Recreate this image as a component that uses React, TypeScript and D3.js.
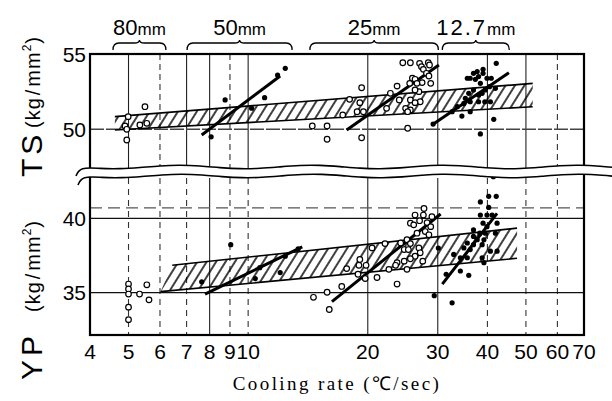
import React from "react";
import * as d3 from "d3";

// ---------- data ----------
const xTicks = [4, 5, 6, 7, 8, 9, 10, 20, 30, 40, 50, 60, 70];
const xTickLabels = ["4", "5", "6", "7", "8", "9", "10", "20", "30", "40", "50", "60", "70"];
const tsTicks = [50, 55];
const ypTicks = [35, 40];
const tsGridSolid = [5, 7, 8, 10, 20, 30, 40, 50];
const tsGridDashed = [6, 9, 60];
const ypGridSolid = [8, 20, 30];
const ypGridDashed = [5, 6, 7, 9, 10, 40, 50, 60];

const plateSizes = ["80", "50", "25", "12.7"];
const plateRanges: [number, number][] = [
  [4.57, 6.21],
  [7.02, 12.9],
  [14.3, 30.1],
  [30.8, 45.4],
];

// TS points (cooling rate, kg/mm2)
const ts80: [number, number][] = [
  [4.99, 50.84], [4.9, 50.22], [5.34, 50.29], [5.56, 50.4], [4.95, 50.0], [4.95, 49.29], [5.5, 51.5],
];
const ts50: [number, number][] = [
  [12.4, 54.05], [11.86, 53.6], [8.75, 51.95], [11.0, 52.1], [10.2, 51.4], [8.07, 49.5],
];
const ts25: [number, number][] = [
  [24.5, 54.42], [25.6, 54.42], [27.0, 54.38], [28.4, 54.42], [27.3, 54.16], [28.6, 54.27],
  [27.6, 53.98], [28.1, 53.72], [25.9, 53.39], [26.3, 53.32], [27.4, 53.1], [26.6, 53.05],
  [28.8, 53.05], [28.5, 53.54], [25.5, 53.05], [23.7, 52.87], [22.8, 52.39], [26.9, 52.5],
  [26.3, 52.61], [24.0, 51.95], [25.6, 51.95], [24.9, 51.39], [25.6, 51.28], [25.2, 51.17],
  [27.1, 51.83], [26.3, 51.77], [22.3, 51.39], [19.3, 52.76], [18.0, 51.99], [19.1, 51.77],
  [17.3, 50.95], [18.8, 51.17], [19.5, 51.17], [14.5, 50.22], [15.8, 50.22], [15.8, 49.34],
  [19.3, 49.44], [25.2, 50.07],
];
const ts127: [number, number][] = [
  [42.1, 54.38], [39.0, 53.98], [37.7, 53.83], [36.9, 53.72], [39.0, 53.72], [38.0, 53.5],
  [39.9, 53.39], [35.6, 53.39], [36.2, 53.39], [37.3, 53.32], [40.9, 53.39], [38.4, 53.05],
  [40.5, 52.83], [39.5, 52.61], [41.9, 52.72], [36.9, 52.61], [35.9, 52.39], [35.2, 52.06],
  [36.2, 51.83], [38.0, 51.83], [39.4, 51.83], [40.7, 51.83], [34.9, 51.72], [33.6, 51.5],
  [32.6, 51.17], [34.5, 50.88], [36.2, 51.17], [41.5, 50.66], [38.4, 49.69], [29.2, 50.35],
  [38.8, 52.39], [38.0, 52.28],
];

// YP points
const yp80: [number, number][] = [
  [5.0, 35.58], [5.0, 35.25], [5.0, 34.91], [5.0, 34.03], [5.0, 33.19], [5.33, 34.91], [5.56, 35.53], [5.63, 34.52],
];
const yp50: [number, number][] = [
  [9.04, 38.23], [7.64, 35.73], [10.42, 35.95], [12.04, 36.35], [12.4, 37.45], [10.7, 36.68], [13.36, 37.94],
];
const yp25: [number, number][] = [
  [27.7, 40.66], [27.6, 40.22], [26.3, 40.22], [25.6, 39.67], [26.1, 39.56], [27.0, 39.84],
  [28.2, 39.71], [29.0, 40.11], [28.8, 39.44], [26.6, 39.0], [27.9, 39.11], [28.5, 38.89],
  [24.2, 38.34], [25.1, 38.56], [25.6, 38.3], [24.7, 37.9], [25.3, 37.9], [26.9, 38.01],
  [27.1, 37.68], [26.3, 37.45], [25.6, 37.28], [27.5, 37.12], [24.7, 37.12], [23.7, 37.02],
  [25.1, 36.57], [23.5, 36.84], [22.6, 36.57], [20.5, 38.01], [22.1, 38.3], [19.1, 37.23],
  [17.7, 36.62], [18.9, 36.24], [19.7, 35.95], [21.1, 36.02], [23.7, 35.58], [17.2, 35.42],
  [15.8, 35.03], [14.6, 34.69], [16.0, 33.87], [19.8, 36.84], [19.0, 36.84],
];
const yp127: [number, number][] = [
  [40.3, 41.48], [42.1, 41.48], [38.4, 41.1], [40.3, 40.73], [38.4, 40.22], [39.9, 40.22],
  [41.1, 40.22], [39.0, 39.67], [42.3, 39.67], [39.9, 39.44], [38.3, 39.0], [39.5, 39.0],
  [36.9, 38.78], [37.7, 38.56], [39.2, 38.56], [35.6, 38.34], [36.9, 38.23], [38.8, 38.23],
  [34.9, 38.01], [36.2, 37.9], [32.9, 37.57], [34.2, 37.35], [35.6, 37.35], [38.8, 37.35],
  [40.7, 37.79], [42.3, 37.79], [39.2, 37.02], [31.5, 36.24], [34.2, 36.46], [35.9, 36.17],
  [29.4, 34.8], [32.6, 34.32], [41.9, 39.0], [36.9, 39.22], [41.4, 42.8], [30.1, 38.0],
];

// regression lines
const tsFits: [number, number][][] = [
  [[7.64, 49.62], [12.04, 53.54]],
  [[17.7, 49.95], [30.2, 54.27]],
  [[29.0, 50.29], [45.3, 53.76]],
];
const ypFits: [number, number][][] = [
  [[7.79, 34.91], [13.68, 38.08]],
  [[16.25, 34.4], [30.5, 40.29]],
  [[30.8, 35.58], [42.3, 40.33]],
];

// scatter bands (upper / lower bounds)
const tsBandUpper: [number, number][] = [[4.62, 50.84], [52, 53.05]];
const tsBandLower: [number, number][] = [[4.62, 49.95], [52, 51.5]];
const ypBandUpper: [number, number][] = [[6.44, 36.84], [47.5, 39.34]];
const ypBandLower: [number, number][] = [[6.02, 35.07], [47.5, 37.31]];

// ---------- layout ----------
const W = 612, H = 401;
const L = 90, R = 584, T = 54, B = 335;
const BREAK_TOP = 170, BREAK_BOT = 178;

export default function App() {
  const x = d3.scaleLog().domain([4, 70]).range([L, R]);
  const ts = d3.scaleLinear().domain([50, 55]).range([129.3, T]);
  const yp = d3.scaleLinear().domain([35, 40]).range([292.7, 218.3]);

  const sans = "'Liberation Sans', Arial, sans-serif";
  const serif = "'Liberation Serif', 'Times New Roman', serif";

  const bandPath = (up: [number, number][], lo: [number, number][], ys: any) =>
    "M" + [...up, ...[...lo].reverse()].map(([a, b]) => `${x(a)},${ys(b)}`).join("L") + "Z";
  const line = (pts: [number, number][], ys: any) =>
    d3.line<[number, number]>().x((d) => x(d[0])).y((d) => ys(d[1]))(pts) || "";

  // decorative break wave
  const wx = d3.range(0, 28).map((i) => 80 + i * 20);
  const waveUp: [number, number][] = [[76, 176], ...wx.map((v, i) => [v, 167 + 2 * Math.sin(i * 0.95)] as [number, number])];
  const waveLo: [number, number][] = waveUp.map(([a, b]) => [a + 2, b + 9] as [number, number]);
  const curve = d3.line<[number, number]>().curve(d3.curveBasis);
  const breakFill =
    (curve(waveUp) || "") + "L" + [...waveLo].reverse().map((p) => p.join(",")).join("L") + "Z";

  const brace = (x0: number, x1: number, y: number) => {
    const c = (x0 + x1) / 2;
    return `M${x0},${y + 8} Q${x0},${y + 1} ${x0 + 6},${y + 1} L${c - 5},${y + 1} Q${c},${y + 1} ${c},${y - 2} Q${c},${y + 1} ${c + 5},${y + 1} L${x1 - 6},${y + 1} Q${x1},${y + 1} ${x1},${y + 8}`;
  };

  const openPts = (pts: [number, number][], ys: any, k: string) =>
    pts.map((d, i) => (
      <circle key={k + i} cx={x(d[0])} cy={ys(d[1])} r={2.8} fill="#fff" stroke="#000" strokeWidth={1.2} />
    ));
  const fillPts = (pts: [number, number][], ys: any, k: string) =>
    pts.map((d, i) => <circle key={k + i} cx={x(d[0])} cy={ys(d[1])} r={2.6} fill="#000" />);

  const unit = (
    <>
      (kg
      <tspan dx={2}>/</tspan>
      <tspan dx={2}>mm</tspan>
      <tspan fontSize={12} dy={-9}>2</tspan>
      <tspan dy={9}>)</tspan>
    </>
  );

  return (
    <div style={{ position: "fixed", left: 0, top: 0 }}>
      <svg width={W} height={H} viewBox={`0 0 ${W} ${H}`} style={{ display: "block" }}>
        <defs>
          <pattern id="hatch" patternUnits="userSpaceOnUse" width={8} height={10} patternTransform="rotate(32)">
            <line x1={2} y1={0} x2={2} y2={10} stroke="#000" strokeWidth={1.5} />
          </pattern>
        </defs>
        <rect width={W} height={H} fill="#fff" />

        {/* vertical grid */}
        {tsGridSolid.map((v) => (
          <line key={"tgs" + v} x1={x(v)} x2={x(v)} y1={T} y2={BREAK_TOP} stroke="#222" strokeWidth={1.1} />
        ))}
        {tsGridDashed.map((v) => (
          <line key={"tgd" + v} x1={x(v)} x2={x(v)} y1={T} y2={BREAK_TOP} stroke="#333" strokeWidth={1.1} strokeDasharray="6,4" />
        ))}
        {ypGridSolid.map((v) => (
          <line key={"ygs" + v} x1={x(v)} x2={x(v)} y1={BREAK_BOT} y2={B} stroke="#222" strokeWidth={1.1} />
        ))}
        {ypGridDashed.map((v) => (
          <line key={"ygd" + v} x1={x(v)} x2={x(v)} y1={BREAK_BOT} y2={B} stroke="#333" strokeWidth={1.1} strokeDasharray="6,5" />
        ))}

        {/* horizontal grid */}
        <line x1={L} x2={R} y1={ts(50)} y2={ts(50)} stroke="#444" strokeWidth={1.6} strokeDasharray="14,2" />
        <line x1={L} x2={R} y1={yp(40.7)} y2={yp(40.7)} stroke="#555" strokeWidth={1.4} strokeDasharray="12,6" />
        <line x1={L} x2={R} y1={yp(40)} y2={yp(40)} stroke="#111" strokeWidth={1.2} />
        <line x1={L} x2={R} y1={yp(35)} y2={yp(35)} stroke="#111" strokeWidth={1.2} />

        {/* bands */}
        <path d={bandPath(tsBandUpper, tsBandLower, ts)} fill="url(#hatch)" />
        <path d={line(tsBandUpper, ts)} stroke="#000" strokeWidth={1.6} fill="none" />
        <path d={line(tsBandLower, ts)} stroke="#000" strokeWidth={1.6} fill="none" />
        <path d={bandPath(ypBandUpper, ypBandLower, yp)} fill="url(#hatch)" />
        <path d={line(ypBandUpper, yp)} stroke="#000" strokeWidth={1.6} fill="none" />
        <path d={line(ypBandLower, yp)} stroke="#000" strokeWidth={1.6} fill="none" />

        {/* frame */}
        <rect x={L} y={T} width={R - L} height={B - T} fill="none" stroke="#000" strokeWidth={2.2} />

        {/* regression lines */}
        {tsFits.map((f, i) => (
          <path key={"tf" + i} d={line(f, ts)} stroke="#000" strokeWidth={3} fill="none" />
        ))}
        {ypFits.map((f, i) => (
          <path key={"yf" + i} d={line(f, yp)} stroke="#000" strokeWidth={3} fill="none" />
        ))}

        {/* points */}
        {openPts(ts80, ts, "a")}
        {fillPts(ts50, ts, "b")}
        {openPts(ts25, ts, "c")}
        {fillPts(ts127, ts, "d")}
        {openPts(yp80, yp, "e")}
        {fillPts(yp50, yp, "f")}
        {openPts(yp25, yp, "g")}
        {fillPts(yp127, yp, "h")}

        {/* axis break */}
        <path d={breakFill} fill="#fff" stroke="none" />
        <path d={curve(waveUp) || ""} fill="none" stroke="#000" strokeWidth={1.6} />
        <path d={curve(waveLo) || ""} fill="none" stroke="#000" strokeWidth={1.6} />

        {/* y tick labels */}
        {tsTicks.map((v) => (
          <text key={"tt" + v} x={L - 4} y={ts(v)} dy="0.36em" textAnchor="end" fontFamily={sans} fontSize={21}>
            {v}
          </text>
        ))}
        {ypTicks.map((v) => (
          <text key={"yt" + v} x={L - 4} y={yp(v)} dy="0.36em" textAnchor="end" fontFamily={sans} fontSize={21}>
            {v}
          </text>
        ))}

        {/* x tick labels */}
        {xTicks.map((v, i) => (
          <text key={"xt" + v} x={x(v)} y={359} textAnchor="middle" fontFamily={sans} fontSize={21}>
            {xTickLabels[i]}
          </text>
        ))}

        {/* y titles */}
        <text transform="translate(42,177) rotate(-90)" fontFamily={sans} fontSize={30} letterSpacing={4}>
          TS
        </text>
        <text transform="translate(40,128) rotate(-90)" fontFamily={sans} fontSize={20} letterSpacing={1}>
          {unit}
        </text>
        <text transform="translate(42,380) rotate(-90)" fontFamily={sans} fontSize={30} letterSpacing={4}>
          YP
        </text>
        <text transform="translate(40,312) rotate(-90)" fontFamily={sans} fontSize={20} letterSpacing={1}>
          {unit}
        </text>

        {/* x title */}
        <text x={337} y={390} textAnchor="middle" fontFamily={serif} fontSize={19} letterSpacing={2.4}>
          Cooling rate (℃/sec)
        </text>

        {/* plate thickness braces */}
        {plateRanges.map((r, i) => {
          const x0 = x(r[0]), x1 = x(r[1]);
          return (
            <g key={"pb" + i}>
              <path d={brace(x0, x1, 42)} fill="none" stroke="#000" strokeWidth={1.3} />
              <text x={(x0 + x1) / 2} y={35} textAnchor="middle" fontFamily={sans} fontSize={22} letterSpacing={i === 3 ? 2 : 0}>
                {plateSizes[i]}
                <tspan fontSize={17} letterSpacing={0}>mm</tspan>
              </text>
            </g>
          );
        })}
      </svg>
    </div>
  );
}
